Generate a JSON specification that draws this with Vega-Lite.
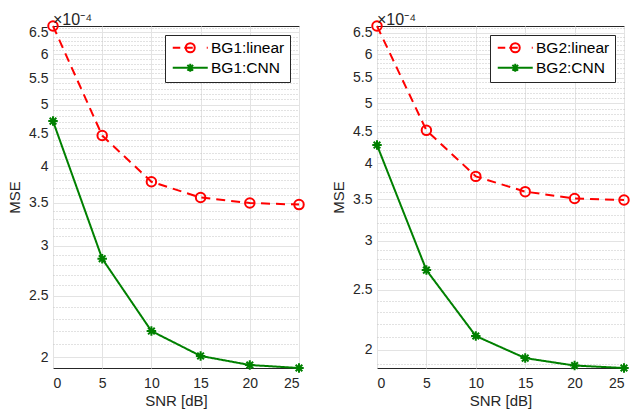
{
  "$schema": "https://vega.github.io/schema/vega-lite/v6.json",
  "padding": {"left": 7, "top": 11, "right": 5, "bottom": 2},
  "background": "white",
  "config": {
    "font": "Liberation Sans",
    "view": {"stroke": "#262626", "strokeWidth": 1},
    "axis": {
      "labelFontSize": 14,
      "titleFontSize": 15,
      "titleFontWeight": "normal",
      "labelColor": "#262626",
      "titleColor": "#262626",
      "domain": false,
      "ticks": false
    },
    "concat": {"spacing": 22}
  },
  "datasets": {
    "bg1": [
      {"snr": 0, "mse": 6.65, "series": "BG1:linear"},
      {"snr": 5, "mse": 4.47, "series": "BG1:linear"},
      {"snr": 10, "mse": 3.78, "series": "BG1:linear"},
      {"snr": 15, "mse": 3.57, "series": "BG1:linear"},
      {"snr": 20, "mse": 3.50, "series": "BG1:linear"},
      {"snr": 25, "mse": 3.48, "series": "BG1:linear"},
      {"snr": 0, "mse": 4.71, "series": "BG1:CNN"},
      {"snr": 5, "mse": 2.86, "series": "BG1:CNN"},
      {"snr": 10, "mse": 2.20, "series": "BG1:CNN"},
      {"snr": 15, "mse": 2.01, "series": "BG1:CNN"},
      {"snr": 20, "mse": 1.945, "series": "BG1:CNN"},
      {"snr": 25, "mse": 1.924, "series": "BG1:CNN"}
    ],
    "bg2": [
      {"snr": 0, "mse": 6.66, "series": "BG2:linear"},
      {"snr": 5, "mse": 4.52, "series": "BG2:linear"},
      {"snr": 10, "mse": 3.81, "series": "BG2:linear"},
      {"snr": 15, "mse": 3.60, "series": "BG2:linear"},
      {"snr": 20, "mse": 3.51, "series": "BG2:linear"},
      {"snr": 25, "mse": 3.49, "series": "BG2:linear"},
      {"snr": 0, "mse": 4.28, "series": "BG2:CNN"},
      {"snr": 5, "mse": 2.69, "series": "BG2:CNN"},
      {"snr": 10, "mse": 2.106, "series": "BG2:CNN"},
      {"snr": 15, "mse": 1.94, "series": "BG2:CNN"},
      {"snr": 20, "mse": 1.887, "series": "BG2:CNN"},
      {"snr": 25, "mse": 1.87, "series": "BG2:CNN"}
    ]
  },
  "resolve": {"scale": {"color": "independent", "y": "independent"}, "legend": {"color": "independent"}},
  "hconcat": [
    {
      "width": 246,
      "height": 342,
      "data": {"name": "bg1"},
      "title": {"text": "×10⁻⁴", "anchor": "start", "frame": "group", "fontSize": 16, "fontWeight": "normal", "color": "#262626", "offset": -11},
      "encoding": {
        "x": {"field": "snr", "type": "quantitative", "title": "SNR [dB]",
          "scale": {"domain": [0, 25], "nice": false},
          "axis": {"values": [0, 5, 10, 15, 20, 25], "gridColor": "#e3e3e3", "labelPadding": 8, "titlePadding": 3}},
        "y": {"field": "mse", "type": "quantitative", "title": "MSE",
          "scale": {"type": "log", "nice": false, "zero": false},
          "axis": {
            "values": [2.0, 2.1, 2.2, 2.3, 2.4, 2.5, 2.6, 2.7, 2.8, 2.9, 3.0, 3.1, 3.2, 3.3, 3.4, 3.5, 3.6, 3.7, 3.8, 3.9, 4.0, 4.1, 4.2, 4.3, 4.4, 4.5, 4.6, 4.7, 4.8, 4.9, 5.0, 5.1, 5.2, 5.3, 5.4, 5.5, 5.6, 5.7, 5.8, 5.9, 6.0, 6.1, 6.2, 6.3, 6.4, 6.5, 6.6],
            "format": "~g",
            "labelExpr": "abs(datum.value*2 - round(datum.value*2)) < 1e-6 ? datum.label : ''",
            "gridDash": {"condition": {"test": "abs(datum.value*2 - round(datum.value*2)) < 1e-6", "value": []}, "value": [1, 2]},
            "gridColor": {"condition": {"test": "abs(datum.value*2 - round(datum.value*2)) < 1e-6", "value": "#e3e3e3"}, "value": "#c4c4c4"},
            "labelPadding": 5, "titlePadding": 6}}
      },
      "layer": [
        {
          "mark": {"type": "line", "strokeWidth": 2},
          "encoding": {
            "color": {"field": "series", "type": "nominal", "sort": ["BG1:linear", "BG1:CNN"],
              "scale": {"domain": ["BG1:linear", "BG1:CNN"], "range": ["#ff0000", "#008000"]},
              "legend": {"title": null, "orient": "top-right", "offset": 9, "padding": 5,
                "fillColor": "white", "strokeColor": "#262626",
                "symbolSize": 100, "symbolStrokeWidth": 2, "symbolOffset": 12.5,
                "labelOffset": 13, "labelFontSize": 15.5, "labelColor": "black", "rowPadding": 2,
                "encode": {"symbols": {"update": {
                  "shape": {"signal": "datum.value == 'BG1:linear' ? 'M-3.5,0H-2M-1.2,0H0.5M3.3,0H3.5M0.9,0A0.9,0.9 0 1,1 -0.9,0A0.9,0.9 0 1,1 0.9,0' : 'M-3.5,0H3.5M0,-0.8V0.8M-0.8,0H0.8M-0.57,-0.57L0.57,0.57M-0.57,0.57L0.57,-0.57'"},
                  "fill": {"value": "transparent"}}}}}},
            "strokeDash": {"condition": {"test": "datum.series == 'BG1:linear'", "value": [9, 6]}, "value": [1, 0]}
          }
        },
        {
          "mark": {"type": "point", "filled": false, "size": 90, "strokeWidth": 2, "opacity": 1},
          "encoding": {
            "stroke": {"condition": {"test": "datum.series == 'BG1:linear'", "value": "#ff0000"}, "value": "#008000"},
            "shape": {"condition": {"test": "datum.series == 'BG1:linear'", "value": "circle"}, "value": "M0,-1V1M-1,0H1M-0.7,-0.7L0.7,0.7M-0.7,0.7L0.7,-0.7"}
          }
        }
      ]
    },
    {
      "width": 247,
      "height": 342,
      "data": {"name": "bg2"},
      "title": {"text": "×10⁻⁴", "anchor": "start", "frame": "group", "fontSize": 16, "fontWeight": "normal", "color": "#262626", "offset": -11},
      "encoding": {
        "x": {"field": "snr", "type": "quantitative", "title": "SNR [dB]",
          "scale": {"domain": [0, 25], "nice": false},
          "axis": {"values": [0, 5, 10, 15, 20, 25], "gridColor": "#e3e3e3", "labelPadding": 8, "titlePadding": 3}},
        "y": {"field": "mse", "type": "quantitative", "title": "MSE",
          "scale": {"type": "log", "nice": false, "zero": false},
          "axis": {
            "values": [1.9, 2.0, 2.1, 2.2, 2.3, 2.4, 2.5, 2.6, 2.7, 2.8, 2.9, 3.0, 3.1, 3.2, 3.3, 3.4, 3.5, 3.6, 3.7, 3.8, 3.9, 4.0, 4.1, 4.2, 4.3, 4.4, 4.5, 4.6, 4.7, 4.8, 4.9, 5.0, 5.1, 5.2, 5.3, 5.4, 5.5, 5.6, 5.7, 5.8, 5.9, 6.0, 6.1, 6.2, 6.3, 6.4, 6.5, 6.6],
            "format": "~g",
            "labelExpr": "abs(datum.value*2 - round(datum.value*2)) < 1e-6 ? datum.label : ''",
            "gridDash": {"condition": {"test": "abs(datum.value*2 - round(datum.value*2)) < 1e-6", "value": []}, "value": [1, 2]},
            "gridColor": {"condition": {"test": "abs(datum.value*2 - round(datum.value*2)) < 1e-6", "value": "#e3e3e3"}, "value": "#c4c4c4"},
            "labelPadding": 5, "titlePadding": 6}}
      },
      "layer": [
        {
          "mark": {"type": "line", "strokeWidth": 2},
          "encoding": {
            "color": {"field": "series", "type": "nominal", "sort": ["BG2:linear", "BG2:CNN"],
              "scale": {"domain": ["BG2:linear", "BG2:CNN"], "range": ["#ff0000", "#008000"]},
              "legend": {"title": null, "orient": "top-right", "offset": 9, "padding": 5,
                "fillColor": "white", "strokeColor": "#262626",
                "symbolSize": 100, "symbolStrokeWidth": 2, "symbolOffset": 12.5,
                "labelOffset": 13, "labelFontSize": 15.5, "labelColor": "black", "rowPadding": 2,
                "encode": {"symbols": {"update": {
                  "shape": {"signal": "datum.value == 'BG2:linear' ? 'M-3.5,0H-2M-1.2,0H0.5M3.3,0H3.5M0.9,0A0.9,0.9 0 1,1 -0.9,0A0.9,0.9 0 1,1 0.9,0' : 'M-3.5,0H3.5M0,-0.8V0.8M-0.8,0H0.8M-0.57,-0.57L0.57,0.57M-0.57,0.57L0.57,-0.57'"},
                  "fill": {"value": "transparent"}}}}}},
            "strokeDash": {"condition": {"test": "datum.series == 'BG2:linear'", "value": [9, 6]}, "value": [1, 0]}
          }
        },
        {
          "mark": {"type": "point", "filled": false, "size": 90, "strokeWidth": 2, "opacity": 1},
          "encoding": {
            "stroke": {"condition": {"test": "datum.series == 'BG2:linear'", "value": "#ff0000"}, "value": "#008000"},
            "shape": {"condition": {"test": "datum.series == 'BG2:linear'", "value": "circle"}, "value": "M0,-1V1M-1,0H1M-0.7,-0.7L0.7,0.7M-0.7,0.7L0.7,-0.7"}
          }
        }
      ]
    }
  ]
}
